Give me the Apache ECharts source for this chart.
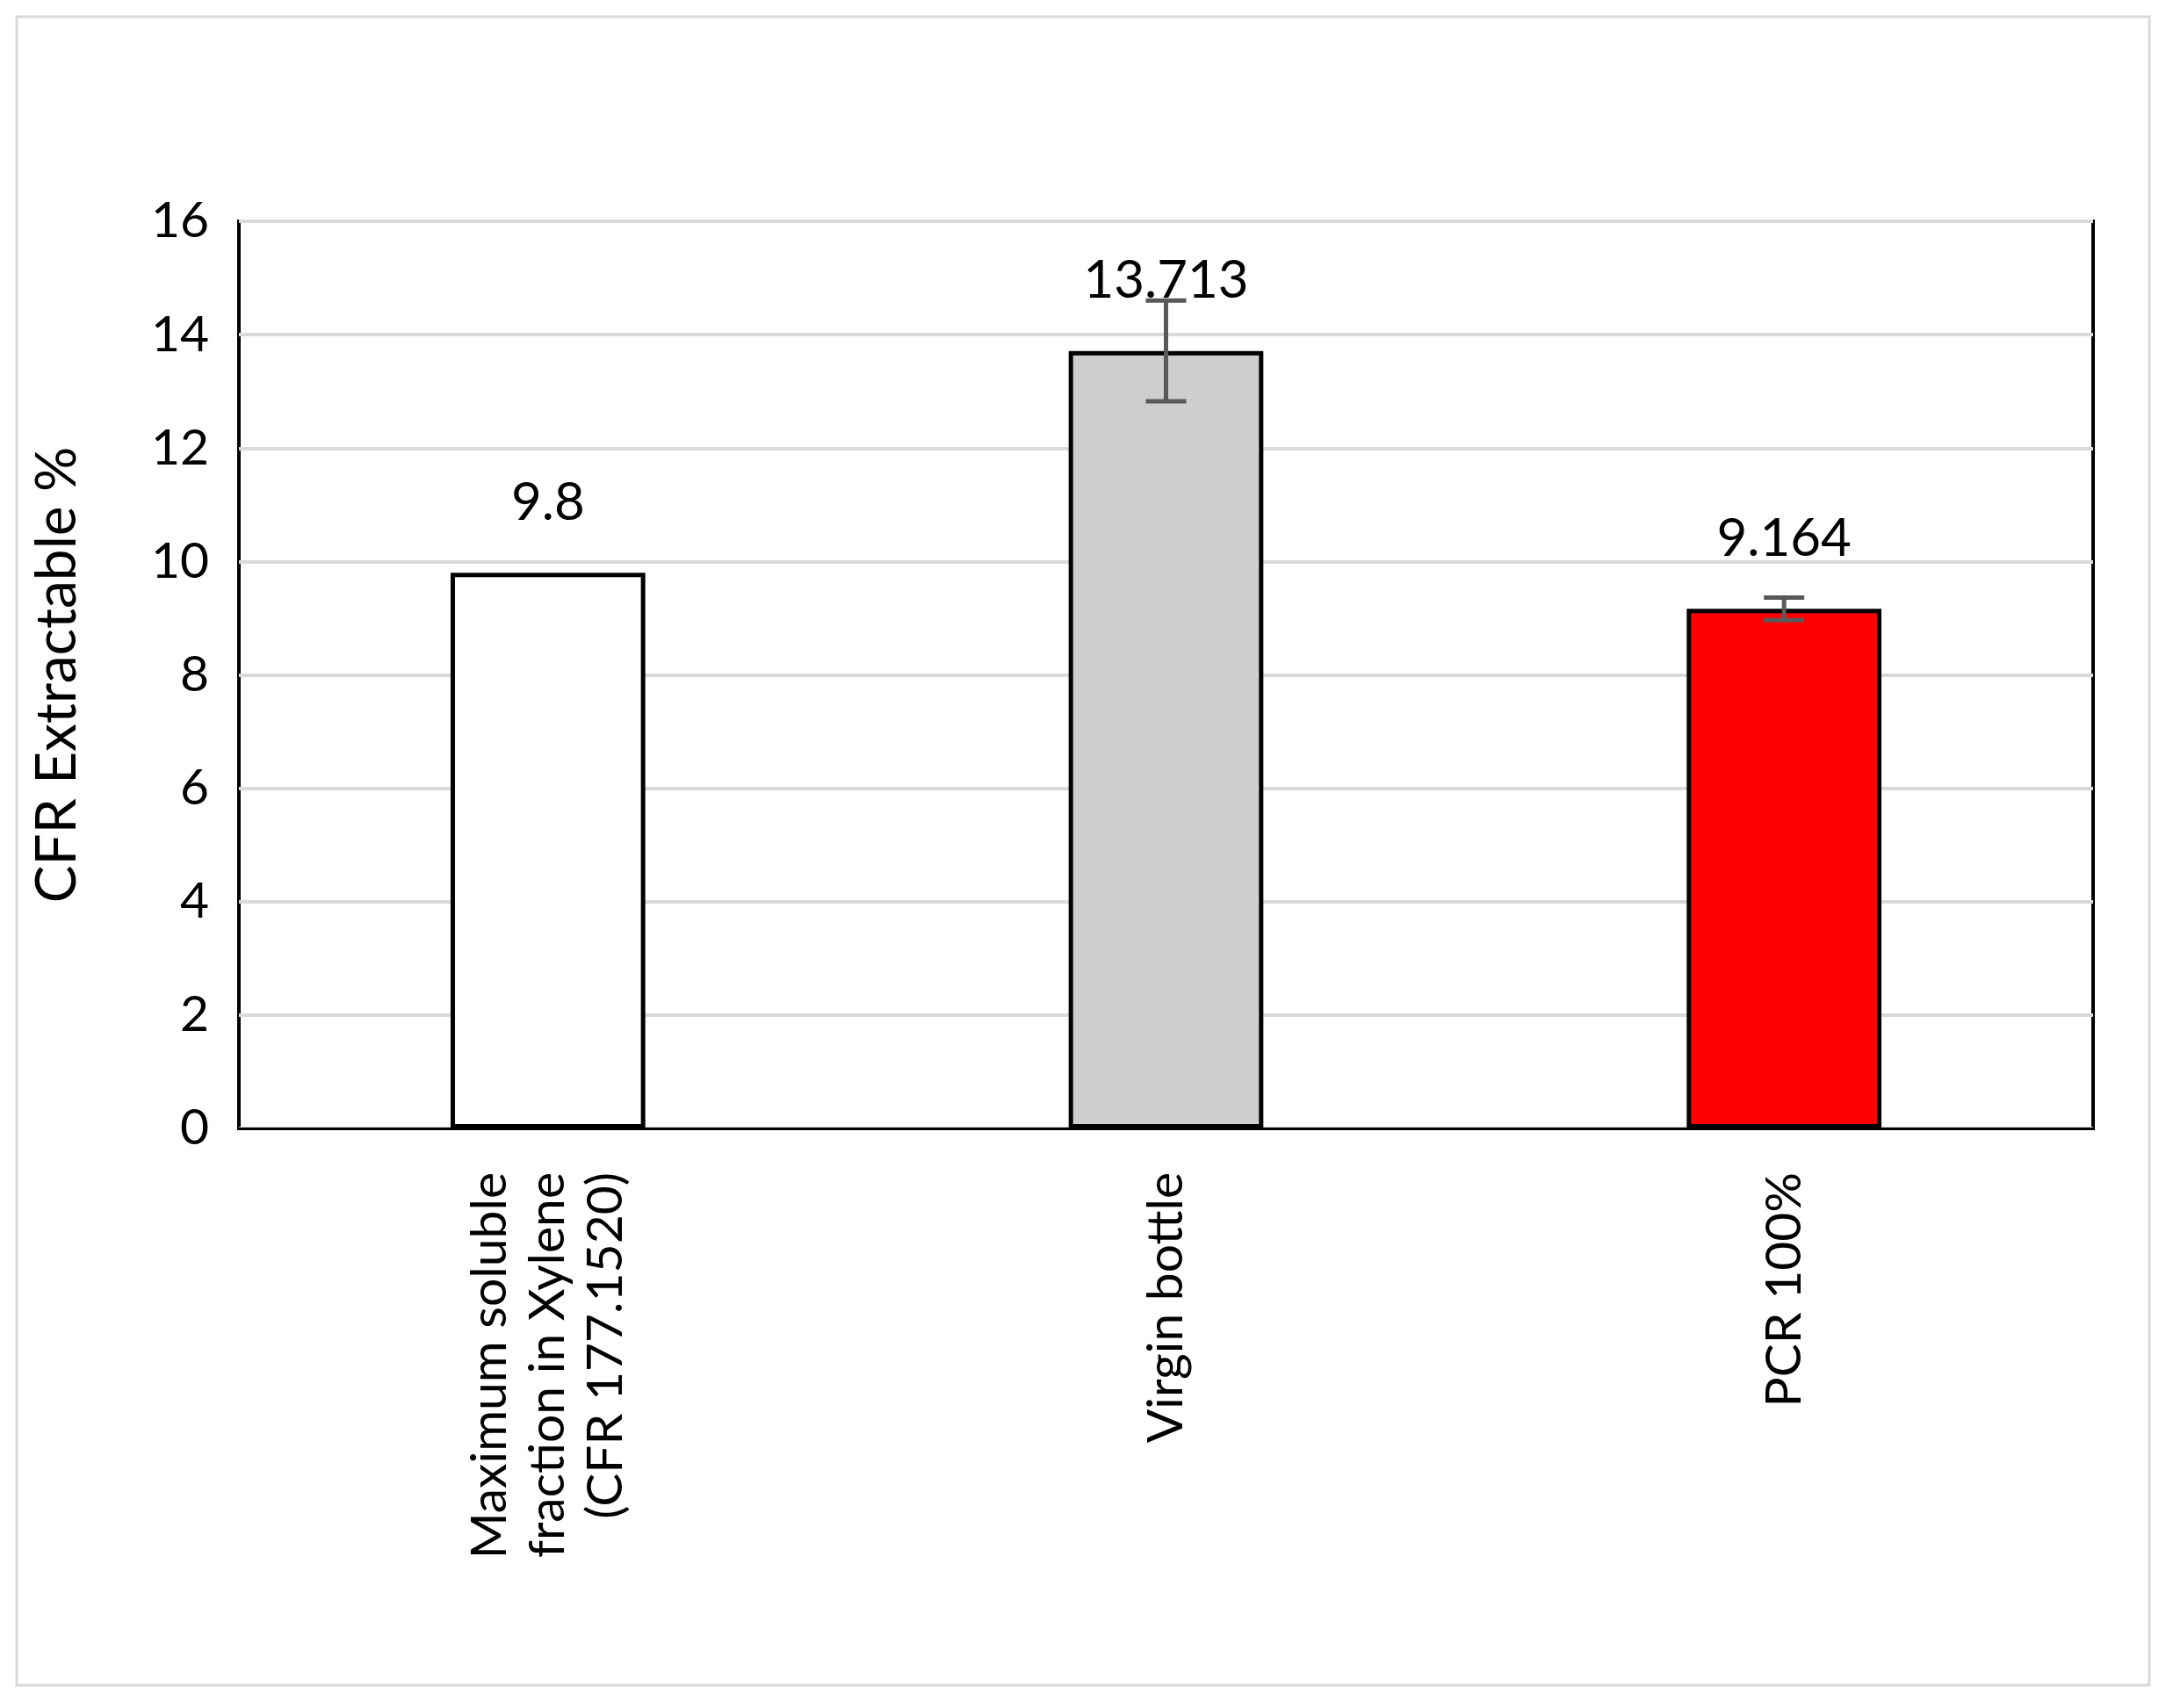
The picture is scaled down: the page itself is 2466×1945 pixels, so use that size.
<!DOCTYPE html>
<html><head><meta charset="utf-8">
<script src="https://cdn.jsdelivr.net/npm/echarts@6/dist/echarts.min.js"></script>
<style>html,body{margin:0;background:#fff}#c{width:2466px;height:1945px}</style>
</head><body><div id="c"></div>
<script>
const categories = ["Maximum soluble\nfraction in Xylene\n(CFR 177.1520)", "Virgin bottle", "PCR 100%"];
const values = [9.8, 13.713, 9.164];
const valueLabels = ["9.8", "13.713", "9.164"];
const errors = [null, 0.89, 0.2];
const colors = ["#ffffff", "#d0cecc", "#ff0000"];
const yTicks = [0, 2, 4, 6, 8, 10, 12, 14, 16];

const chart = echarts.init(document.getElementById('c'));
const font = 'Lato, "Open Sans", sans-serif';
chart.setOption({
  animation: false,
  graphic: [{type:'rect', shape:{x:19,y:19,width:2428,height:1900}, style:{fill:'none', stroke:'#d9d9d9', lineWidth:3}}],
  grid: {left:272, right:83, top:252, bottom:660, show:true, borderColor:'#000', borderWidth:4},
  xAxis: {type:'category', data:categories,
    axisLine:{lineStyle:{color:'#000', width:3}}, axisTick:{show:false},
    axisLabel:{rotate:90, fontSize:57, color:'#000', fontFamily:font, margin:50, lineHeight:66, align:'right'}},
  yAxis: {type:'value', min:0, max:16, interval:2,
    name:'CFR Extractable %', nameLocation:'middle', nameGap:175,
    nameTextStyle:{fontSize:64, color:'#000', fontFamily:font},
    axisLabel:{fontSize:57, color:'#000', fontFamily:font, margin:34,
      formatter:v=>yTicks.includes(v)?String(v):''},
    splitLine:{lineStyle:{color:'#d9d9d9', width:4}}},
  series: [
    {type:'bar', barWidth:'31.5%',
     data: values.map((v,i)=>({value:v, itemStyle:{color:colors[i], borderColor:'#000', borderWidth:5}})),
     label:{show:true, position:'top', distance:50, fontSize:60, color:'#000', fontFamily:font,
       formatter:p=>valueLabels[p.dataIndex]}},
    {type:'custom', z:10,
     data: values.map((v,i)=>[i, v, errors[i]]),
     renderItem:(params, api)=>{
       const e = api.value(2);
       if (!e) return null;
       const i = api.value(0), v = api.value(1);
       const top = api.coord([i, v+e]), bot = api.coord([i, v-e]);
       const h = 23, s = {stroke:'#595959', lineWidth:5};
       return {type:'group', children:[
         {type:'line', shape:{x1:top[0],y1:top[1],x2:bot[0],y2:bot[1]}, style:s},
         {type:'line', shape:{x1:top[0]-h,y1:top[1],x2:top[0]+h,y2:top[1]}, style:s},
         {type:'line', shape:{x1:bot[0]-h,y1:bot[1],x2:bot[0]+h,y2:bot[1]}, style:s}]};
     }}
  ]
});
</script></body></html>
